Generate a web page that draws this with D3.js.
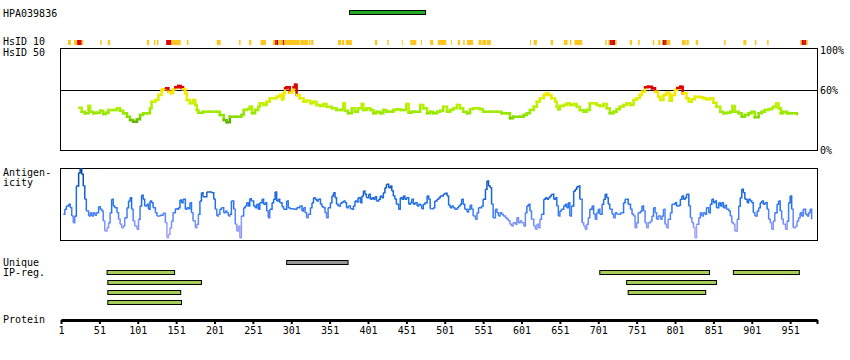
<!DOCTYPE html>
<html>
<head>
<meta charset="utf-8">
<script src="https://cdn.jsdelivr.net/npm/d3@7"></script>
<style>
  body { margin: 0; background: #fff; }
  text { font-family: "DejaVu Sans Mono", monospace; font-size: 10px; fill: #000; }
</style>
</head>
<body>
<div id="chart"></div>
<script>
// protein length and axis ticks
const proteinLen = 986;
const tickRes = [1, 51, 101, 151, 201, 251, 301, 351, 401, 451, 501, 551, 601, 651, 701, 751, 801, 851, 901, 951];

// antibody target region
const hpaName = "HPA039836";
const hpaRegion = [377, 476];

// HsID 10 identity strip: start, end, level (1 = some, 2 = high, 3 = highest)
const hsid10Start = [10, 18, 22, 28, 52, 62, 113, 122, 126, 138, 145, 165, 204, 233, 246, 261, 277, 280, 282, 284, 290, 292,
  313, 324, 327, 362, 367, 372, 410, 426, 445, 456, 470, 482, 492, 509, 518, 525, 530, 545, 550, 556, 612, 617, 639, 656, 664, 670,
  710, 714, 716, 718, 720, 723, 742, 753, 772, 779, 784, 785, 787, 789, 790, 810, 816, 828, 865, 890, 905, 921, 964, 966, 968, 970, 972];
const hsid10End = [14, 22, 28, 30, 54, 65, 116, 124, 128, 145, 157, 167, 209, 235, 249, 268, 280, 282, 284, 290, 292, 312,
  323, 326, 330, 366, 370, 380, 413, 428, 446, 464, 471, 486, 503, 510, 521, 527, 538, 549, 555, 561, 613, 621, 642, 661, 666, 680,
  712, 716, 718, 720, 723, 725, 745, 755, 774, 782, 785, 787, 789, 790, 795, 815, 819, 831, 867, 894, 907, 923, 966, 968, 970, 972, 974];
const hsid10Level = [1, 1, 2, 1, 1, 1, 1, 1, 1, 2, 1, 1, 1, 1, 1, 1, 1, 2, 3, 1, 2, 1,
  1, 1, 1, 1, 1, 1, 1, 1, 1, 1, 1, 1, 1, 1, 1, 1, 1, 1, 1, 1, 1, 1, 1, 1, 1, 1,
  1, 1, 2, 3, 2, 1, 1, 1, 1, 1, 1, 2, 3, 2, 1, 1, 1, 1, 1, 1, 1, 1, 1, 2, 3, 2, 1];

// HsID 50 identity (%)
const hsid50Res = [25, 28, 32, 37, 39, 43, 47, 52, 56, 60, 63, 69, 74, 78, 82, 87, 91, 95, 100, 104, 108, 113, 117, 119, 124, 128, 132, 134, 138, 141,
  144, 147, 150, 154, 157, 160, 163, 165, 169, 173, 176, 178, 180, 186, 195, 204, 208, 213, 217, 221, 230, 236, 239, 243, 247, 250, 254, 258, 260, 265,
  269, 273, 278, 282, 286, 289, 291, 293, 295, 299, 302, 304, 306, 308, 312, 317, 321, 326, 330, 334, 339, 343, 347, 354, 360, 367, 369, 371, 375, 380,
  384, 388, 393, 395, 399, 404, 408, 412, 417, 421, 425, 430, 434, 438, 443, 447, 451, 454, 458, 462, 469, 473, 478, 482, 486, 491, 495, 499, 504, 508,
  512, 517, 521, 525, 530, 534, 538, 543, 547, 551, 560, 569, 575, 582, 586, 590, 599, 604, 608, 612, 617, 621, 625, 630, 633, 636, 640, 645, 647, 649,
  651, 656, 660, 664, 669, 673, 677, 682, 686, 690, 695, 699, 703, 708, 712, 716, 721, 725, 729, 734, 738, 743, 747, 751, 755, 758, 762, 766, 771, 775,
  779, 782, 786, 790, 794, 797, 801, 804, 808, 811, 816, 819, 823, 827, 834, 838, 842, 847, 851, 855, 860, 864, 869, 873, 876, 879, 884, 888, 892, 897,
  901, 905, 910, 914, 918, 923, 927, 929, 933, 936, 939, 942, 947, 951, 960];
const hsid50Val = [42.3, 38.3, 36.7, 44, 38.3, 36.7, 37.3, 39.3, 36, 37.3, 40, 40, 41.7, 39.3, 36.7, 33.3, 30, 28.3, 30.7, 35, 36.7, 36.7, 41.7, 48.3, 50, 55, 60, 60.7, 61.7, 58.3,
  56.7, 60.7, 62.7, 64, 62.7, 60.7, 56.7, 50, 46.7, 50, 45, 40, 37.3, 38.3, 38.3, 38.3, 35, 30, 27.7, 33.3, 33.3, 35, 40, 40.7, 43.3, 36.7, 40, 43.3, 46.7, 45,
  48.3, 51.7, 51.7, 53.3, 55, 50.7, 56.7, 61.7, 62.7, 57.3, 59.3, 62.7, 65.3, 55, 51.7, 48.3, 49.3, 46.7, 48.3, 45, 44, 46, 43.3, 41.7, 40, 40.7, 46.7, 39.3, 36.7, 41.7,
  38.3, 41.7, 46, 40, 41.7, 40, 36.7, 38.3, 36.7, 40, 38.3, 38.3, 40, 40.7, 40, 40, 46, 37.3, 38.3, 38.3, 45, 41.7, 36.7, 38.3, 36.7, 38.3, 39.3, 43.3, 38.3, 40,
  41.7, 45, 41.7, 38.3, 36.7, 40.7, 41.7, 41.7, 40.7, 38.3, 38.3, 38.3, 36.7, 36.7, 31.7, 33.3, 33.3, 35, 36.7, 40, 43.3, 48.3, 51.7, 55, 56.7, 55, 51.7, 48.3, 43.3, 40.7,
  44, 45, 46.7, 45, 46, 43.3, 40, 38.3, 40, 46.7, 46.7, 45, 44, 46, 41.7, 36.7, 38.3, 40.7, 43.3, 45, 46.7, 45, 50, 51.7, 55, 58.3, 62.7, 63.3, 61.7, 58.3,
  53.3, 50, 55, 57.3, 49.3, 55, 60, 62, 63.3, 56.7, 51.7, 48.3, 50.7, 53.3, 52.7, 51.7, 50.7, 51.7, 47.3, 43.3, 38.3, 36.7, 37.3, 38.3, 44, 38.3, 36.7, 33.3, 35, 36.7,
  38.3, 32.7, 36.7, 38.3, 40, 40.7, 41.7, 43.3, 46.7, 41.7, 36.7, 38.3, 36.7, 36.7, 36];

// antigenicity score (arbitrary units, 0-216)
const antRes = [4, 6, 8, 11, 13, 15, 17, 19, 21, 24, 26, 28, 30, 32, 34, 37, 39, 41, 43, 45, 47, 50, 52, 54, 56, 58, 61, 63, 65, 67,
  69, 71, 74, 76, 78, 80, 82, 84, 87, 89, 91, 93, 95, 97, 100, 102, 104, 106, 108, 110, 113, 115, 117, 119, 121, 124, 126, 130, 134, 137,
  139, 141, 143, 145, 147, 150, 152, 154, 156, 158, 160, 163, 165, 167, 169, 171, 173, 176, 178, 180, 182, 184, 186, 191, 195, 197, 200, 202, 204, 206,
  208, 210, 213, 215, 217, 219, 221, 223, 226, 228, 230, 232, 234, 236, 239, 241, 243, 245, 247, 249, 252, 254, 256, 258, 260, 263, 265, 267, 269, 271,
  273, 276, 278, 280, 282, 284, 286, 289, 291, 295, 297, 299, 304, 308, 312, 315, 317, 319, 321, 323, 326, 328, 330, 332, 334, 336, 339, 341, 343, 345,
  347, 349, 352, 354, 356, 358, 360, 362, 365, 367, 369, 371, 373, 375, 378, 380, 382, 384, 386, 388, 391, 393, 395, 397, 399, 402, 404, 406, 408, 410,
  412, 415, 417, 419, 421, 423, 425, 428, 430, 432, 434, 436, 438, 441, 443, 445, 447, 449, 451, 454, 456, 458, 460, 462, 465, 467, 469, 471, 473, 475,
  478, 480, 482, 484, 486, 488, 491, 493, 495, 499, 501, 504, 506, 508, 510, 512, 514, 517, 519, 521, 523, 525, 527, 530, 532, 534, 536, 538, 541, 543,
  545, 547, 549, 551, 554, 556, 558, 560, 562, 564, 567, 569, 571, 573, 575, 577, 580, 582, 584, 586, 588, 590, 593, 595, 597, 599, 601, 604, 606, 608,
  610, 612, 614, 617, 619, 621, 623, 625, 627, 630, 632, 634, 636, 638, 640, 643, 645, 647, 649, 651, 653, 656, 658, 660, 662, 664, 666, 669, 671, 673,
  675, 677, 680, 682, 684, 686, 688, 690, 693, 695, 697, 699, 701, 703, 706, 708, 710, 712, 714, 716, 719, 721, 723, 725, 727, 730, 732, 734, 736, 738,
  740, 743, 745, 747, 749, 751, 753, 756, 758, 760, 762, 764, 766, 769, 771, 773, 775, 777, 779, 782, 784, 786, 788, 790, 792, 795, 797, 799, 801, 803,
  806, 808, 810, 812, 814, 816, 819, 821, 823, 825, 827, 829, 832, 834, 836, 838, 840, 842, 845, 847, 849, 851, 853, 855, 858, 860, 862, 864, 866, 868,
  871, 873, 875, 877, 879, 882, 884, 886, 888, 890, 892, 895, 897, 899, 901, 903, 905, 908, 910, 912, 914, 916, 918, 921, 923, 925, 927, 929, 931, 934,
  936, 938, 940, 942, 945, 947, 949, 951, 953, 955, 958, 960, 962, 964, 966, 968, 971, 973, 975, 977, 979];
const antVal = [77, 92, 102, 107, 97, 72, 52, 72, 162, 202, 214, 197, 162, 122, 87, 72, 82, 72, 82, 74, 82, 100, 92, 87, 57, 27, 37, 52, 82, 122,
  102, 97, 82, 62, 47, 37, 42, 67, 97, 117, 127, 92, 57, 42, 32, 62, 102, 134, 122, 102, 107, 92, 117, 112, 97, 82, 72, 74, 80, 52,
  7, 17, 37, 57, 82, 94, 92, 97, 120, 112, 122, 92, 97, 94, 112, 82, 57, 37, 47, 77, 117, 142, 130, 144, 144, 142, 122, 92, 72, 77,
  92, 97, 82, 87, 82, 72, 77, 117, 92, 47, 27, 42, 7, 72, 97, 102, 112, 102, 124, 117, 102, 97, 107, 92, 112, 122, 107, 112, 87, 67,
  92, 112, 122, 144, 117, 122, 112, 100, 92, 117, 97, 94, 92, 97, 102, 87, 97, 82, 67, 77, 97, 112, 127, 122, 117, 122, 107, 100, 97, 82,
  67, 97, 112, 132, 142, 127, 107, 102, 110, 114, 117, 112, 97, 102, 94, 92, 102, 117, 114, 127, 112, 132, 147, 137, 127, 137, 122, 127, 122, 130,
  117, 122, 132, 127, 142, 157, 167, 157, 162, 147, 132, 122, 107, 92, 127, 122, 132, 122, 127, 107, 112, 122, 107, 112, 102, 107, 104, 94, 107, 112,
  132, 122, 94, 94, 97, 117, 122, 127, 132, 137, 140, 132, 104, 97, 102, 97, 92, 97, 102, 107, 122, 107, 92, 84, 92, 104, 92, 72, 62, 82,
  97, 97, 102, 122, 152, 177, 162, 157, 107, 67, 92, 82, 72, 82, 77, 72, 67, 62, 57, 47, 42, 52, 47, 67, 52, 57, 52, 42, 82, 102,
  107, 87, 62, 42, 32, 47, 37, 62, 77, 122, 127, 122, 127, 132, 137, 122, 127, 102, 72, 87, 92, 102, 107, 97, 112, 72, 102, 147, 152, 160,
  162, 122, 52, 42, 32, 47, 67, 92, 102, 77, 62, 82, 92, 77, 107, 122, 137, 127, 107, 92, 77, 67, 82, 77, 77, 82, 82, 112, 122, 122,
  107, 92, 77, 72, 37, 52, 82, 87, 102, 87, 52, 37, 52, 57, 72, 97, 82, 62, 72, 62, 72, 92, 47, 37, 62, 82, 107, 107, 112, 102,
  104, 122, 132, 122, 127, 137, 102, 67, 52, 37, 7, 47, 67, 82, 72, 82, 77, 97, 82, 107, 122, 112, 117, 97, 112, 102, 112, 97, 104, 92,
  87, 72, 52, 47, 27, 62, 102, 127, 152, 142, 122, 112, 122, 117, 112, 82, 72, 87, 97, 112, 117, 107, 112, 92, 62, 52, 32, 57, 82, 107,
  117, 87, 62, 47, 32, 57, 112, 132, 92, 37, 42, 57, 67, 82, 72, 92, 77, 72, 82, 92, 62];

// unique IP regions: start, end, row, kind
const ipStart = [295, 61, 703, 877, 62, 738, 62, 740, 62];
const ipEnd = [375, 149, 846, 963, 184, 855, 157, 841, 158];
const ipRow = [0, 1, 1, 1, 2, 2, 3, 3, 4];
const ipKind = ["other", "ip", "ip", "ip", "ip", "ip", "ip", "ip", "ip"];

const hsidTicks = [100, 60, 0];

const W = 850, H = 360;
const svg = d3.select("#chart").append("svg")
  .attr("width", W)
  .attr("height", H);

// shared residue scale
const x = d3.scaleLinear().domain([1, proteinLen]).range([61, 817]);

// labels on the left
const leftLabels = [
  [hpaName, 17], ["HsID 10", 45], ["HsID 50", 56],
  ["Antigen-", 176], ["icity", 186], ["Unique", 266], ["IP-reg.", 276], ["Protein", 323]
];
svg.selectAll("text.lbl")
  .data(leftLabels)
  .join("text")
  .attr("class", "lbl")
  .attr("x", 3)
  .attr("y", d => d[1])
  .text(d => d[0]);

// antibody bar
svg.append("rect")
  .attr("x", x(hpaRegion[0]))
  .attr("y", 10.5)
  .attr("width", x(hpaRegion[1]) - x(hpaRegion[0]))
  .attr("height", 4)
  .attr("fill", "#22aa22")
  .attr("stroke", "#000")
  .attr("stroke-width", 1);

// HsID 10 strip
const strip = hsid10Start.map((s, i) => ({s: s, e: hsid10End[i], lvl: hsid10Level[i]}));
const stripColor = {1: "#ffc61e", 2: "#e00000", 3: "#a80000"};
svg.append("g").selectAll("rect")
  .data(strip)
  .join("rect")
  .attr("x", d => x(d.s))
  .attr("y", 40)
  .attr("width", d => Math.max(1, x(d.e) - x(d.s)))
  .attr("height", 5)
  .attr("fill", d => stripColor[d.lvl]);

// HsID 50 panel
const y50 = d3.scaleLinear().domain([0, 100]).range([150, 50]);
svg.append("rect")
  .attr("x", 60.5).attr("y", 48.5)
  .attr("width", 757).attr("height", 102)
  .attr("fill", "none").attr("stroke", "#000");
svg.append("line")
  .attr("x1", 60.5).attr("x2", 817.5)
  .attr("y1", Math.round(y50(60)) + 0.5).attr("y2", Math.round(y50(60)) + 0.5)
  .attr("stroke", "#000");
svg.selectAll("text.pct")
  .data(hsidTicks)
  .join("text")
  .attr("class", "pct")
  .attr("x", 820)
  .attr("y", d => y50(d) + 4)
  .text(d => d + "%");

const c50 = d3.scaleLinear()
  .domain([28, 33, 40, 50, 58])
  .range(["#5db000", "#88dd00", "#a5ee00", "#d8f000", "#ffe600"])
  .clamp(true);
const col50 = v => v >= 61 ? "#e00000" : c50(v);

const steps50 = hsid50Res.slice(0, -1).map((r, i) => ({
  x0: x(r), x1: x(hsid50Res[i + 1]), v: hsid50Val[i], vn: hsid50Val[i + 1]
}));
svg.append("g").selectAll("path")
  .data(steps50)
  .join("path")
  .attr("d", d => `M${d.x0},${y50(d.v)}H${d.x1}V${y50(d.vn)}`)
  .attr("fill", "none")
  .attr("stroke", d => col50(d.v))
  .attr("stroke-width", 2.5)
  .attr("stroke-linecap", "square");

// antigenicity panel
const yAnt = d3.scaleLinear().domain([0, 216]).range([240, 168]);
svg.append("rect")
  .attr("x", 60.5).attr("y", 168.5)
  .attr("width", 757).attr("height", 72)
  .attr("fill", "none").attr("stroke", "#000");

const cAnt = d3.scaleLinear()
  .domain([20, 100, 200])
  .range(["#aaa2ff", "#2474f2", "#0848a8"])
  .clamp(true);
const stepsAnt = antRes.slice(0, -1).map((r, i) => ({
  x0: x(r), x1: x(antRes[i + 1]), v: antVal[i], vn: antVal[i + 1]
}));
svg.append("g").selectAll("path")
  .data(stepsAnt)
  .join("path")
  .attr("d", d => `M${d.x0},${yAnt(d.v)}H${d.x1}V${yAnt(d.vn)}`)
  .attr("fill", "none")
  .attr("stroke", d => cAnt((d.v + d.vn) / 2))
  .attr("stroke-width", 1.5);

// unique IP regions
const ipBars = ipStart.map((s, i) => ({s: s, e: ipEnd[i], row: ipRow[i], kind: ipKind[i]}));
svg.append("g").selectAll("rect")
  .data(ipBars)
  .join("rect")
  .attr("x", d => x(d.s))
  .attr("y", d => 260.5 + d.row * 10)
  .attr("width", d => x(d.e) - x(d.s))
  .attr("height", 4)
  .attr("fill", d => d.kind == "ip" ? "#a6cc5a" : "#999999")
  .attr("stroke", "#000")
  .attr("stroke-width", 1);

// protein axis
const xAxis = d3.axisBottom(x)
  .tickValues(tickRes.concat([proteinLen]))
  .tickFormat(d => d == proteinLen ? "" : d)
  .tickSize(4)
  .tickSizeOuter(0)
  .tickPadding(3);
const axisG = svg.append("g")
  .attr("transform", "translate(0,320)")
  .call(xAxis);
axisG.select(".domain").attr("stroke-width", 3).attr("stroke", "#000");
axisG.selectAll(".tick line").attr("stroke-width", 2).attr("stroke", "#000");
axisG.selectAll(".tick text")
  .attr("font-family", "DejaVu Sans Mono")
  .attr("font-size", 10)
  .attr("fill", "#000");
</script>
</body>
</html>
